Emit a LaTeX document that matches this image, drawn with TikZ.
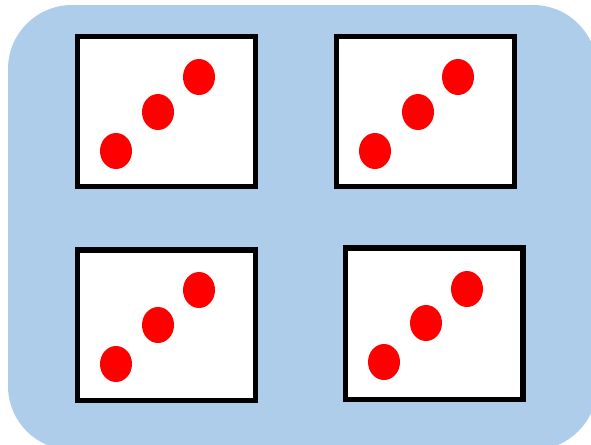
\documentclass[tikz,border=0pt]{standalone}
\definecolor{panelblue}{RGB}{174,205,234}
\definecolor{dotred}{RGB}{255,0,0}
\usetikzlibrary{shapes.geometric}
\tikzset{
  frame/.style={draw=black, line width=4pt, fill=white},
  dot/.style={fill=dotred, draw=none, ellipse, minimum width=24pt, minimum height=27pt, inner sep=0pt},
}
\begin{document}
\begin{tikzpicture}[x=0.75pt,y=-0.75pt]
\useasboundingbox (0,0) rectangle (591,444);
\fill[panelblue, rounded corners=48pt] (8,5) rectangle (597,450);
% frames
\draw[frame] (77.5,36.5) rectangle (255.5,186.5);
\draw[frame] (336.5,36.5) rectangle (514.5,186.5);
\draw[frame] (77.5,250) rectangle (255.5,400.5);
\draw[frame] (345.5,248) rectangle (523,399.5);
% dots
\node[dot] (a1) at (116,151) {};
\node[dot] (a2) at (158,112) {};
\node[dot] (a3) at (199,77) {};
\node[dot] (b1) at (375,151) {};
\node[dot] (b2) at (418,112) {};
\node[dot] (b3) at (458,77) {};
\node[dot] (c1) at (116,364) {};
\node[dot] (c2) at (158,325) {};
\node[dot] (c3) at (199,290) {};
\node[dot] (d1) at (384,362) {};
\node[dot] (d2) at (426,323) {};
\node[dot] (d3) at (467,289) {};
\end{tikzpicture}
\end{document}
